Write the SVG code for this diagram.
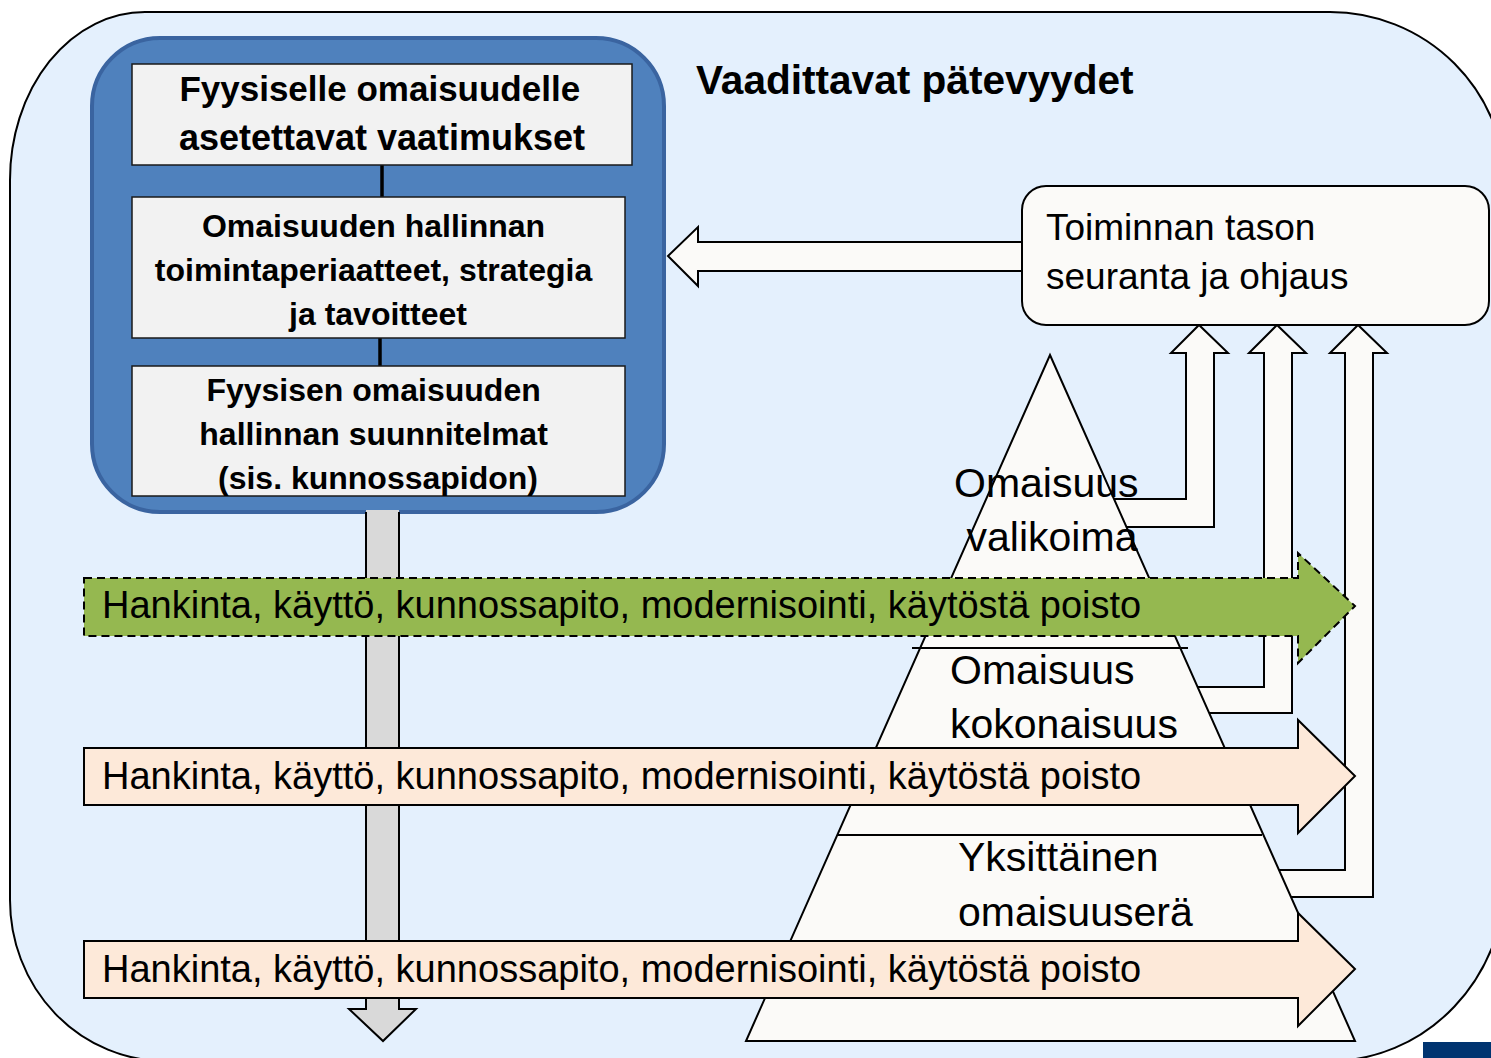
<svg xmlns="http://www.w3.org/2000/svg" width="1491" height="1058" viewBox="0 0 1491 1058">
  <style>
    .ln { stroke: #000; stroke-width: 2; stroke-linejoin: miter; }
    .card { fill: #f2f2f2; stroke: #1a1a1a; stroke-width: 1.5; }
    .bold { font-family: "Liberation Sans", Arial, sans-serif; font-weight: bold; fill: #000; }
    .reg { font-family: "Liberation Sans", Arial, sans-serif; fill: #000; }
    .paper { fill: #fbfaf8; }
    .flow { fill: #fde9d9; stroke: #000; stroke-width: 2; }
    .flow-green { fill: #95b850; stroke: #000; stroke-width: 2; stroke-dasharray: 8 5; }
  </style>

  <!-- outer frame -->
  <g id="frame">
    <path d="M10,180 A135,168 0 0 1 145,12 L1330,12 A176,176 0 0 1 1506,188 L1506,875 A176,186 0 0 1 1330,1061 L165,1061 A155,161 0 0 1 10,900 Z" fill="#e4f0fd" stroke="#000" stroke-width="2"/>
    <rect x="1423" y="1042" width="70" height="20" fill="#003470"/>
  </g>

  <!-- management stack -->
  <g id="stack">
    <rect x="92" y="38" width="572" height="474" rx="68" fill="#4f81bd" stroke="#3a64a0" stroke-width="4"/>
  </g>

  <g id="connectors">
    <!-- links between the stacked cards -->
    <line x1="382" y1="165" x2="382" y2="197" stroke="#000" stroke-width="3.5"/>
    <line x1="380" y1="338" x2="380" y2="366" stroke="#000" stroke-width="3.5"/>
    <!-- downward timeline arrow -->
    <polygon points="366,510 399,510 399,1009 416,1009 383,1041 349,1009 366,1009" fill="#d9d9d9"/>
    <path d="M366,512 L366,1009 L349,1009 L383,1041 L416,1009 L399,1009 L399,512" fill="none" class="ln"/>
    <!-- feedback to the policy stack -->
    <polygon points="1030,242 698,242 698,227 668,256 698,286 698,271 1030,271" class="ln paper"/>
    <!-- reporting arrows from the pyramid levels -->
    <polygon points="1100,499 1186,499 1186,353 1171,353 1199,325 1228,353 1214,353 1214,527 1100,527" class="ln paper"/>
    <polygon points="1180,687 1264,687 1264,353 1249,353 1277,325 1306,353 1292,353 1292,713 1180,713" class="ln paper"/>
    <polygon points="1250,870 1345,870 1345,353 1330,353 1358,325 1387,353 1373,353 1373,897 1250,897" class="ln paper"/>
  </g>

  <!-- cards inside the stack -->
  <g id="card-requirements">
    <rect x="132" y="64" width="500" height="101" class="card"/>
    <text class="bold" text-anchor="middle">
      <tspan x="382" y="101" font-size="35">Fyysiselle omaisuudelle</tspan>
      <tspan x="382" y="150" font-size="36">asetettavat vaatimukset</tspan>
    </text>
  </g>
  <g id="card-policy">
    <rect x="132" y="197" width="493" height="141" class="card"/>
    <text class="bold" font-size="32" text-anchor="middle">
      <tspan x="378" y="237">Omaisuuden hallinnan</tspan>
      <tspan x="378" y="281">toimintaperiaatteet, strategia</tspan>
      <tspan x="378" y="325">ja tavoitteet</tspan>
    </text>
  </g>
  <g id="card-plans">
    <rect x="132" y="366" width="493" height="130" class="card"/>
    <text class="bold" font-size="32" text-anchor="middle">
      <tspan x="378" y="401">Fyysisen omaisuuden</tspan>
      <tspan x="378" y="445">hallinnan suunnitelmat</tspan>
      <tspan x="378" y="489">(sis. kunnossapidon)</tspan>
    </text>
  </g>

  <!-- asset pyramid -->
  <g id="pyramid">
    <polygon points="1050,355 1355,1041 746,1041" class="ln paper"/>
    <line x1="912" y1="648" x2="1188" y2="648" class="ln"/>
    <line x1="838" y1="835" x2="1262" y2="835" class="ln"/>
    <text class="reg" font-size="41" text-anchor="middle">
      <tspan x="1052" y="497">Omaisuus</tspan>
      <tspan x="1052" y="551">valikoima</tspan>
    </text>
    <text class="reg" font-size="41">
      <tspan x="950" y="684">Omaisuus</tspan>
      <tspan x="950" y="738">kokonaisuus</tspan>
    </text>
    <text class="reg" font-size="41">
      <tspan x="958" y="871">Yksittäinen</tspan>
      <tspan x="958" y="926">omaisuuserä</tspan>
    </text>
  </g>

  <!-- life-cycle flows -->
  <g id="flow-portfolio">
    <polygon points="84,578 1298,578 1298,553 1355,606 1298,663 1298,636 84,636" class="flow-green"/>
    <text class="reg" x="102" y="618" font-size="38">Hankinta, käyttö, kunnossapito, modernisointi, käytöstä poisto</text>
  </g>
  <g id="flow-system">
    <polygon points="84,748 1298,748 1298,720 1355,776 1298,833 1298,805 84,805" class="flow"/>
    <text class="reg" x="102" y="789" font-size="38">Hankinta, käyttö, kunnossapito, modernisointi, käytöstä poisto</text>
  </g>
  <g id="flow-asset">
    <polygon points="84,941 1298,941 1298,913 1355,969 1298,1026 1298,998 84,998" class="flow"/>
    <text class="reg" x="102" y="982" font-size="38">Hankinta, käyttö, kunnossapito, modernisointi, käytöstä poisto</text>
  </g>

  <!-- performance monitoring box -->
  <g id="monitoring">
    <rect x="1022" y="186" width="467" height="139" rx="24" class="paper" stroke="#000" stroke-width="2"/>
    <text class="reg" font-size="37">
      <tspan x="1046" y="240">Toiminnan tason</tspan>
      <tspan x="1046" y="289">seuranta ja ohjaus</tspan>
    </text>
  </g>

  <g id="title">
    <text class="bold" x="696" y="94" font-size="40.6">Vaadittavat pätevyydet</text>
  </g>
</svg>
